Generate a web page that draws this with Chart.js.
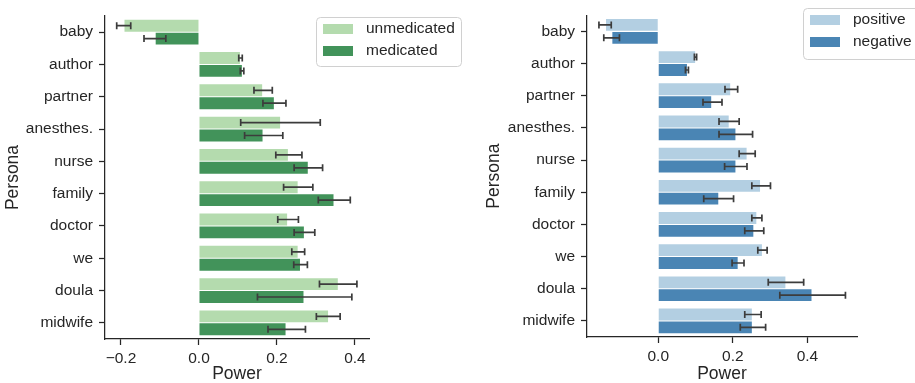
<!DOCTYPE html>
<html>
<head>
<meta charset="utf-8">
<script src="https://cdn.jsdelivr.net/npm/chart.js@4/dist/chart.umd.min.js"></script>
<style>
  html, body { margin: 0; padding: 0; background: #fff; }
  #wrap { position: relative; width: 915px; height: 383px; overflow: hidden; }
  #left { position: absolute; left: 0; top: 0; }
  #right { position: absolute; left: 470px; top: 0; }
</style>
</head>
<body>
<div id="wrap">
  <canvas id="left" width="470" height="383"></canvas>
  <canvas id="right" width="445" height="383"></canvas>
</div>
<script>
const personas = ['baby', 'author', 'partner', 'anesthes.', 'nurse', 'family', 'doctor', 'we', 'doula', 'midwife'];

// left panel: unmedicated vs medicated
const unmedicated = [-0.191, 0.105, 0.162, 0.208, 0.228, 0.253, 0.226, 0.253, 0.356, 0.331];
const unmedicatedLo = [-0.211, 0.102, 0.141, 0.107, 0.197, 0.217, 0.202, 0.238, 0.309, 0.301];
const unmedicatedHi = [-0.175, 0.111, 0.188, 0.311, 0.264, 0.292, 0.255, 0.271, 0.405, 0.362];
const medicated = [-0.111, 0.110, 0.192, 0.163, 0.279, 0.345, 0.269, 0.259, 0.268, 0.222];
const medicatedLo = [-0.141, 0.106, 0.164, 0.117, 0.244, 0.306, 0.244, 0.243, 0.150, 0.177];
const medicatedHi = [-0.085, 0.115, 0.223, 0.215, 0.317, 0.388, 0.297, 0.278, 0.392, 0.273];

// right panel: positive vs negative
const positive = [-0.140, 0.099, 0.193, 0.189, 0.237, 0.273, 0.263, 0.278, 0.341, 0.251];
const positiveLo = [-0.159, 0.097, 0.179, 0.163, 0.217, 0.251, 0.251, 0.267, 0.295, 0.232];
const positiveHi = [-0.126, 0.103, 0.213, 0.217, 0.260, 0.301, 0.278, 0.292, 0.390, 0.276];
const negative = [-0.123, 0.077, 0.142, 0.207, 0.207, 0.161, 0.255, 0.213, 0.411, 0.251];
const negativeLo = [-0.146, 0.073, 0.120, 0.163, 0.178, 0.122, 0.232, 0.198, 0.326, 0.220];
const negativeHi = [-0.104, 0.081, 0.171, 0.253, 0.238, 0.202, 0.283, 0.230, 0.502, 0.288];

const leftTicks = [-0.2, 0.0, 0.2, 0.4];
const rightTicks = [0.0, 0.2, 0.4];

const ink = '#262626';
const font = 'Liberation Sans, Arial, sans-serif';

// draws the confidence whiskers for every bar
const errorBars = {
  id: 'errorBars',
  afterDatasetsDraw(chart) {
    const ctx = chart.ctx;
    const xs = chart.scales.x;
    ctx.save();
    ctx.strokeStyle = '#3c3c3c';
    ctx.lineWidth = 1.7;
    chart.data.datasets.forEach((ds, i) => {
      const meta = chart.getDatasetMeta(i);
      meta.data.forEach((bar, j) => {
        const x1 = xs.getPixelForValue(ds.errLo[j]);
        const x2 = xs.getPixelForValue(ds.errHi[j]);
        const y = bar.y;
        ctx.beginPath();
        ctx.moveTo(x1, y); ctx.lineTo(x2, y);
        ctx.moveTo(x1, y - 3.5); ctx.lineTo(x1, y + 3.5);
        ctx.moveTo(x2, y - 3.5); ctx.lineTo(x2, y + 3.5);
        ctx.stroke();
      });
    });
    ctx.restore();
  }
};

// matplotlib-like legend box
const boxLegend = {
  id: 'boxLegend',
  afterDraw(chart, args, opts) {
    const ctx = chart.ctx;
    ctx.save();
    ctx.beginPath();
    ctx.roundRect(opts.x + 0.5, opts.y + 0.5, opts.w, opts.h, 4);
    ctx.fillStyle = 'rgba(255,255,255,0.85)';
    ctx.fill();
    ctx.strokeStyle = '#d0d0d0';
    ctx.lineWidth = 1;
    ctx.stroke();
    ctx.font = '15.5px ' + font;
    ctx.textBaseline = 'middle';
    chart.data.datasets.forEach((ds, i) => {
      const cy = opts.y + 12 + i * 22;
      ctx.fillStyle = ds.backgroundColor;
      ctx.fillRect(opts.x + 7, cy - 5, 30, 10);
      ctx.fillStyle = ink;
      ctx.fillText(ds.label, opts.x + 50, cy);
    });
    ctx.restore();
  }
};

function fmt(v) {
  const s = Math.abs(v).toFixed(1);
  return v < 0 ? '\u2212' + s : s;
}

function makeChart(id, cfg) {
  return new Chart(document.getElementById(id), {
    type: 'bar',
    plugins: [errorBars, boxLegend],
    data: {
      labels: personas,
      datasets: cfg.series.map(s => ({
        label: s.label,
        data: s.data,
        errLo: s.lo,
        errHi: s.hi,
        backgroundColor: s.color,
        borderWidth: 0,
        categoryPercentage: 0.8,
        barPercentage: 0.92
      }))
    },
    options: {
      indexAxis: 'y',
      responsive: false,
      animation: false,
      devicePixelRatio: 1,
      layout: { padding: { top: cfg.top, right: cfg.right, left: 0, bottom: 0 } },
      plugins: {
        legend: { display: false },
        tooltip: { enabled: false },
        boxLegend: cfg.legend
      },
      scales: {
        x: {
          min: cfg.min,
          max: cfg.max,
          afterBuildTicks: s => { s.ticks = cfg.ticks.map(v => ({ value: v })); },
          afterFit: s => { s.height = cfg.bottom; },
          border: { color: ink, width: 1.25 },
          grid: { drawOnChartArea: false, drawTicks: true, tickLength: 6, tickColor: ink, tickWidth: 1.25 },
          ticks: { color: ink, font: { family: font, size: 15.5 }, padding: 4, callback: v => fmt(v) },
          title: { display: true, text: 'Power', color: ink, font: { family: font, size: 17.5, lineHeight: 1 }, padding: { top: 0, bottom: 0 } }
        },
        y: {
          afterFit: s => { s.width = cfg.leftW; },
          border: { color: ink, width: 1.25 },
          grid: { offset: false, drawOnChartArea: false, drawTicks: true, tickLength: 6, tickColor: ink, tickWidth: 1.25 },
          ticks: { color: ink, font: { family: font, size: 15.5 }, padding: 6 },
          title: { display: true, text: 'Persona', color: ink, font: { family: font, size: 17.5, lineHeight: 1 }, padding: { top: cfg.titleX, bottom: 0 } }
        }
      }
    }
  });
}

makeChart('left', {
  min: -0.241, max: 0.436, ticks: leftTicks,
  top: 16, right: 101, bottom: 44, leftW: 105, titleX: 4,
  legend: { x: 316, y: 17, w: 145, h: 49 },
  series: [
    { label: 'unmedicated', data: unmedicated, lo: unmedicatedLo, hi: unmedicatedHi, color: '#b4dbae' },
    { label: 'medicated', data: medicated, lo: medicatedLo, hi: medicatedHi, color: '#42935a' }
  ]
});

makeChart('right', {
  min: -0.191, max: 0.533, ticks: rightTicks,
  top: 9, right: 58, bottom: 46, leftW: 117, titleX: 15,
  legend: { x: 333, y: 8, w: 140, h: 51 },
  series: [
    { label: 'positive', data: positive, lo: positiveLo, hi: positiveHi, color: '#b3cfe2' },
    { label: 'negative', data: negative, lo: negativeLo, hi: negativeHi, color: '#4a85b4' }
  ]
});
</script>
</body>
</html>
